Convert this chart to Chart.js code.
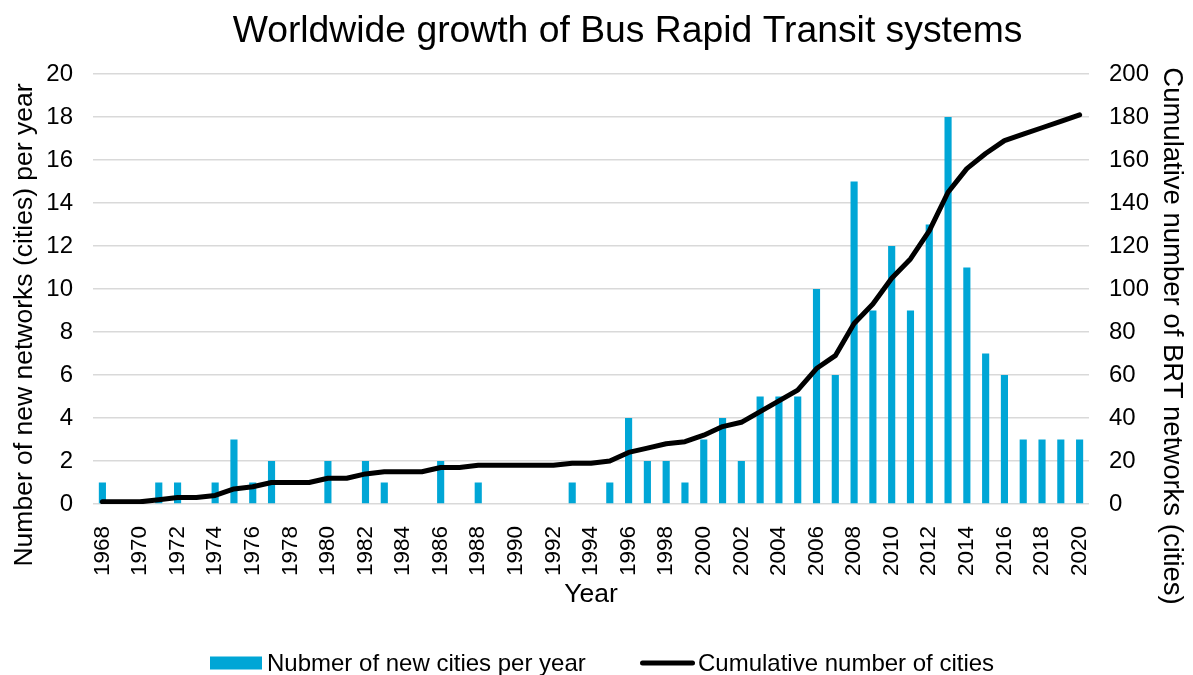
<!DOCTYPE html>
<html>
<head>
<meta charset="utf-8">
<script src="https://cdn.jsdelivr.net/npm/chart.js@4/dist/chart.umd.min.js"></script>
<style>
  html, body { margin: 0; padding: 0; background: #ffffff; }
  #wrap { width: 1193px; height: 675px; }
</style>
</head>
<body>
<div id="wrap"><canvas id="c" width="1193" height="675"></canvas></div>
<script>
// Years covered by the chart
const years = [
  1968, 1969, 1970, 1971, 1972, 1973, 1974, 1975, 1976, 1977,
  1978, 1979, 1980, 1981, 1982, 1983, 1984, 1985, 1986, 1987,
  1988, 1989, 1990, 1991, 1992, 1993, 1994, 1995, 1996, 1997,
  1998, 1999, 2000, 2001, 2002, 2003, 2004, 2005, 2006, 2007,
  2008, 2009, 2010, 2011, 2012, 2013, 2014, 2015, 2016, 2017,
  2018, 2019, 2020
];

// New BRT cities opened each year
const newCities = [
  1, 0, 0, 1, 1, 0, 1, 3, 1, 2,
  0, 0, 2, 0, 2, 1, 0, 0, 2, 0,
  1, 0, 0, 0, 0, 1, 0, 1, 4, 2,
  2, 1, 3, 4, 2, 5, 5, 5, 10, 6,
  15, 9, 12, 9, 13, 18, 11, 7, 6, 3,
  3, 3, 3
];

// Running total of cities with BRT
const cumulativeCities = [
  1, 1, 1, 2, 3, 3, 4, 7, 8, 10,
  10, 10, 12, 12, 14, 15, 15, 15, 17, 17,
  18, 18, 18, 18, 18, 19, 19, 20, 24, 26,
  28, 29, 32, 36, 38, 43, 48, 53, 63, 69,
  84, 93, 105, 114, 127, 145, 156, 163, 169, 172,
  175, 178, 181
];

const leftTicks = [0, 2, 4, 6, 8, 10, 12, 14, 16, 18, 20];
const rightTicks = [0, 20, 40, 60, 80, 100, 120, 140, 160, 180, 200];

const TITLE = 'Worldwide growth of Bus Rapid Transit systems';
const LEFT_TITLE = 'Number of new networks (cities) per year';
const RIGHT_TITLE = 'Cumulative number of BRT networks (cities)';

const FONT = "'Liberation Sans', Arial, sans-serif";
const BAR_BLUE = '#00A6D6';
const GRID = '#d9d9d9';

// Chart heading and the two vertical axis titles
const headings = {
  id: 'headings',
  afterDraw(chart) {
    const ctx = chart.ctx;
    ctx.save();
    ctx.fillStyle = '#000000';
    ctx.textAlign = 'center';

    ctx.font = '37.3px ' + FONT;
    ctx.textBaseline = 'alphabetic';
    ctx.fillText(TITLE, 627.5, 42);

    ctx.textBaseline = 'middle';
    ctx.font = '26.5px ' + FONT;
    ctx.save();
    ctx.translate(25, 325);
    ctx.rotate(-Math.PI / 2);
    ctx.fillText(LEFT_TITLE, 0, 0);
    ctx.restore();

    ctx.font = '27.5px ' + FONT;
    ctx.save();
    ctx.translate(1172, 336);
    ctx.rotate(Math.PI / 2);
    ctx.fillText(RIGHT_TITLE, 0, 0);
    ctx.restore();

    ctx.restore();
  }
};

// Bottom legend: a wide blue swatch for the bars, a thick black stroke for the line
const bottomLegend = {
  id: 'bottomLegend',
  afterDraw(chart) {
    const ctx = chart.ctx;
    const ds = chart.data.datasets;
    const y = 663;
    ctx.save();
    ctx.font = '24px ' + FONT;
    ctx.textBaseline = 'middle';
    ctx.textAlign = 'left';
    // bar entry
    ctx.fillStyle = ds[0].backgroundColor;
    ctx.fillRect(210, y - 6.5, 52, 13);
    ctx.fillStyle = '#000000';
    ctx.fillText(ds[0].label, 267, y + 1);
    // line entry
    ctx.strokeStyle = ds[1].borderColor;
    ctx.lineWidth = 5;
    ctx.lineCap = 'round';
    ctx.beginPath();
    ctx.moveTo(642.5, y);
    ctx.lineTo(692.5, y);
    ctx.stroke();
    ctx.fillText(ds[1].label, 698, y + 1);
    ctx.restore();
  }
};

new Chart(document.getElementById('c'), {
  data: {
    labels: years.map(String),
    datasets: [
      {
        type: 'bar',
        label: 'Nubmer of new cities per year',
        data: newCities,
        backgroundColor: BAR_BLUE,
        borderWidth: 0,
        yAxisID: 'y',
        categoryPercentage: 1.0,
        barPercentage: 0.38,
        order: 2
      },
      {
        type: 'line',
        label: 'Cumulative number of cities',
        data: cumulativeCities,
        borderColor: '#000000',
        backgroundColor: '#000000',
        borderWidth: 5,
        tension: 0,
        borderJoinStyle: 'round',
        borderCapStyle: 'round',
        pointRadius: 0,
        fill: false,
        yAxisID: 'y2',
        order: 1
      }
    ]
  },
  plugins: [headings, bottomLegend],
  options: {
    responsive: false,
    animation: false,
    layout: { padding: { left: 8.8, right: 4.8, top: 74, bottom: 64 } },
    plugins: {
      title: { display: false },
      legend: { display: false },
      tooltip: { enabled: false }
    },
    scales: {
      x: {
        grid: { display: false },
        border: { display: false },
        afterFit: (axis) => { axis.height = 107; },
        title: {
          display: true,
          text: 'Year',
          color: '#000000',
          font: { family: FONT, size: 26.5 },
          padding: { top: 0, bottom: 0 }
        },
        ticks: {
          autoSkip: false,
          maxRotation: 90,
          minRotation: 90,
          color: '#000000',
          font: { family: FONT, size: 22.5 },
          padding: 14,
          callback: function (value, index) {
            return years[index] % 2 === 0 ? String(years[index]) : '';
          }
        }
      },
      y: {
        position: 'left',
        min: 0,
        max: 20,
        afterBuildTicks: (axis) => { axis.ticks = leftTicks.map(v => ({ value: v })); },
        afterFit: (axis) => { axis.width = 84.2; },
        grid: { color: GRID, lineWidth: 1.5, drawTicks: false },
        border: { display: false },
        ticks: {
          color: '#000000',
          font: { family: FONT, size: 24 },
          padding: 20
        }
      },
      y2: {
        position: 'right',
        min: 0,
        max: 200,
        afterBuildTicks: (axis) => { axis.ticks = rightTicks.map(v => ({ value: v })); },
        afterFit: (axis) => { axis.width = 99.2; },
        grid: { display: false, drawTicks: false },
        border: { display: false },
        ticks: {
          color: '#000000',
          font: { family: FONT, size: 24 },
          padding: 20
        }
      }
    }
  }
});
</script>
</body>
</html>
